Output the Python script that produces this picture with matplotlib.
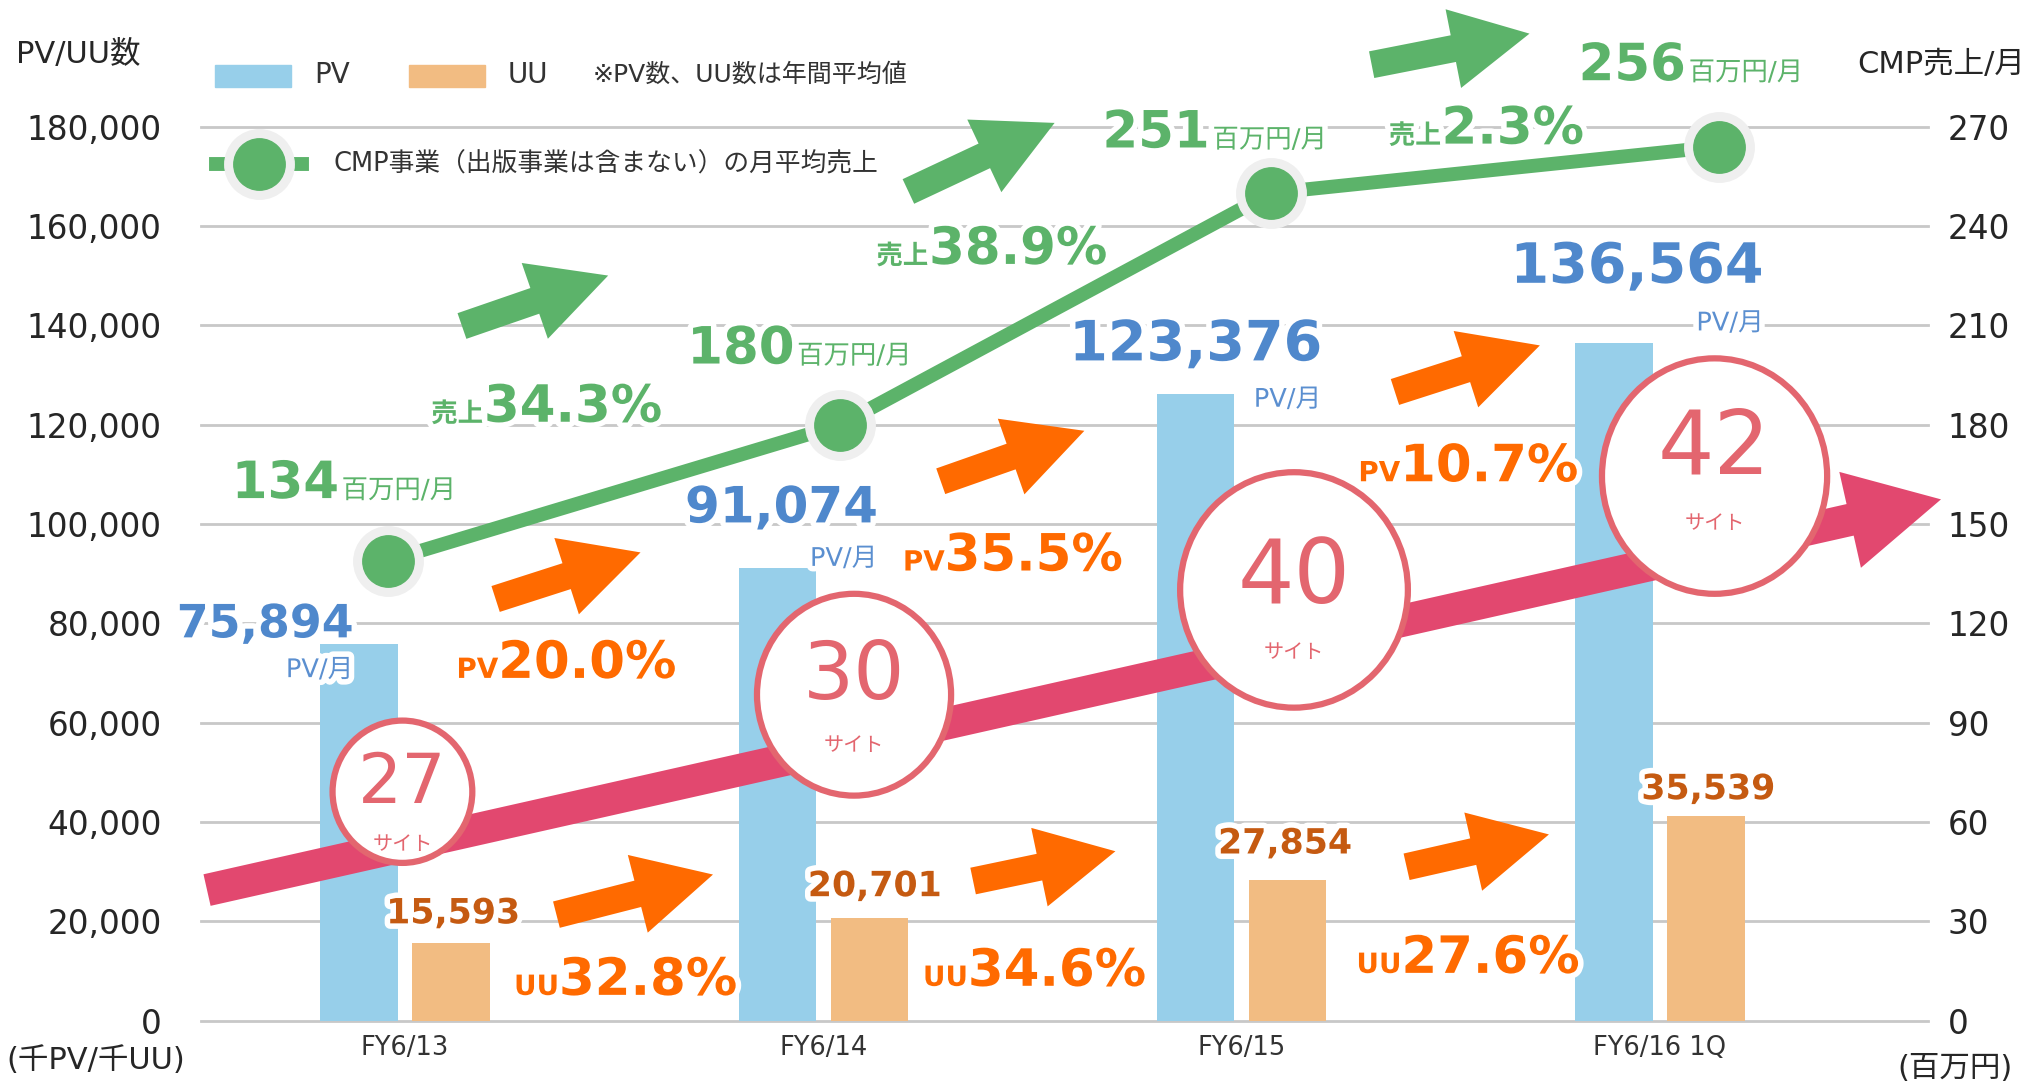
import numpy as np
import matplotlib.pyplot as plt
import matplotlib.patheffects as pe
from matplotlib.patches import FancyArrow, Ellipse, Rectangle

plt.rcParams['font.family'] = ['DejaVu Sans', 'Noto Sans CJK JP']

# data
categories = ['FY6/13', 'FY6/14', 'FY6/15', 'FY6/16 1Q']
pv_values = [75894, 91074, 126200, 136564]
uu_values = [15593, 20701, 28400, 41200]
pv_labels = ['75,894', '91,074', '123,376', '136,564']
uu_labels = ['15,593', '20,701', '27,854', '35,539']
cmp_sales = [139, 180, 250, 264]
cmp_labels = ['134', '180', '251', '256']
sites = [27, 30, 40, 42]
pv_growth = ['20.0%', '35.5%', '10.7%']
uu_growth = ['32.8%', '34.6%', '27.6%']
cmp_growth = ['34.3%', '38.9%', '2.3%']
left_ticks = np.arange(0, 180001, 20000)
right_ticks = np.arange(0, 271, 30)

# colours
C_PV = '#97CFEA'
C_UU = '#F2BC82'
C_GREEN = '#5CB36A'
C_ORANGE = '#FF6A00'
C_BLUE = '#4F88CC'
C_UUTXT = '#C55A11'
C_PINK = '#E2486F'
C_CIRC = '#E3666F'
C_TXT = '#262626'

# layout units = reference picture scaled to 1568 x 841
W, H = 1568, 841
def fx(v):
    return v / W
def fy(v):
    return 1 - v / H

fig = plt.figure(figsize=(20.29, 10.88), dpi=100)
ax = fig.add_axes([fx(155), fy(789), fx(1490) - fx(155), fy(98) - fy(789)])

x = np.arange(len(categories))
ax.bar(x - 0.11, pv_values, width=0.185, color=C_PV, zorder=2)
ax.bar(x + 0.11, uu_values, width=0.185, color=C_UU, zorder=2)
ax.set_xlim(-0.489, 3.641)
ax.set_ylim(0, 180000)
ax.set_yticks(left_ticks)
ax.set_yticklabels([f'{v:,}' for v in left_ticks])
ax.set_xticks(x)
ax.set_xticklabels(categories)
ax.yaxis.grid(True, color='#C8C8C8', lw=2, clip_on=False)
ax.set_axisbelow(True)
for s in ax.spines.values():
    s.set_visible(False)
ax.tick_params(axis='y', length=0, pad=28, labelsize=23.5, labelcolor=C_TXT)
ax.tick_params(axis='x', length=0, pad=10, labelsize=18.5, labelcolor='#333333')

ax2 = ax.twinx()
ax2.set_ylim(0, 270)
ax2.set_yticks(right_ticks)
for s in ax2.spines.values():
    s.set_visible(False)
ax2.tick_params(axis='y', length=0, pad=14, labelsize=23.5, labelcolor=C_TXT)
cmp_x = x + np.array([-0.04, 0.04, 0.07, 0.14])
ax2.plot(cmp_x, cmp_sales, color=C_GREEN, lw=10, zorder=3, clip_on=False)
ax2.plot(cmp_x, cmp_sales, 'o', ms=50, color='#EFEFEF', zorder=4, clip_on=False)
ax2.plot(cmp_x, cmp_sales, 'o', ms=37, color=C_GREEN, zorder=5, clip_on=False)

# overlay for decorations and annotation texts
ov = fig.add_axes([0, 0, 1, 1], zorder=5)
ov.set_xlim(0, W)
ov.set_ylim(H, 0)
ov.axis('off')

glow = [pe.withStroke(linewidth=8, foreground='white')]

def fat_arrow(x0, y0, x1, y1, color, body=21, head_w=62, head_l=60, z=3):
    ov.add_patch(FancyArrow(x0, y0, x1 - x0, y1 - y0, width=body, head_width=head_w,
                            head_length=head_l, length_includes_head=True,
                            color=color, lw=0, zorder=z))

# site trend arrow and circles
fat_arrow(160, 688, 1500, 386, C_PINK, body=25, head_w=76, head_l=72, z=2)
circles = [(311, 612, 54, 55), (660, 537, 75, 78), (1000, 456, 88, 91), (1325, 368, 87, 91)]
num_y = [606, 523, 447, 347]
site_y = [653, 576, 504, 405]
num_sizes = [50, 58, 64, 64]
for (cx, cy, rx, ry), n, fs, ny, sy in zip(circles, sites, num_sizes, num_y, site_y):
    ov.add_patch(Ellipse((cx, cy), 2 * rx, 2 * ry, fc='white', ec=C_CIRC, lw=4.5, zorder=4))
    ov.text(cx, ny, str(n), ha='center', va='center', fontsize=fs,
            color=C_CIRC, zorder=5)
    ov.text(cx, sy, 'サイト', ha='center', va='center', fontsize=14.5,
            color=C_CIRC, zorder=5)

# growth arrows
green_arrows = [(357, 252, 470, 213), (702, 148, 815, 95), (1060, 50, 1182, 26)]
pv_arrows = [(383, 463, 495, 427), (727, 372, 838, 333), (1078, 303, 1190, 267)]
uu_arrows = [(430, 707, 551, 676), (752, 681, 862, 658), (1087, 670, 1197, 645)]
for a in green_arrows:
    fat_arrow(*a, C_GREEN)
for a in pv_arrows + uu_arrows:
    fat_arrow(*a, C_ORANGE)

def pair(xs, yb, small, big, color, s_size, b_size, small_first=True, small_bold=True):
    sw = 'bold' if small_bold else 'normal'
    if small_first:
        ov.text(xs, yb, small, ha='right', va='baseline', fontsize=s_size, fontweight=sw,
                color=color, path_effects=glow, zorder=6)
        ov.text(xs, yb, big, ha='left', va='baseline', fontsize=b_size, fontweight='bold',
                color=color, path_effects=glow, zorder=6)
    else:
        ov.text(xs, yb, big, ha='right', va='baseline', fontsize=b_size, fontweight='bold',
                color=color, path_effects=glow, zorder=6)
        ov.text(xs + 2, yb, small, ha='left', va='baseline', fontsize=s_size, fontweight=sw,
                color=color, path_effects=glow, zorder=6)

# CMP sales labels
for (xs, yb), lab in zip([(262, 385), (614, 281), (935, 114), (1303, 62)], cmp_labels):
    pair(xs, yb, '百万円/月', lab, C_GREEN, 19, 37, small_first=False, small_bold=False)
for (xs, yb), lab in zip([(374, 326), (718, 204), (1114, 111)], cmp_growth):
    pair(xs, yb, '売上', lab, C_GREEN, 19, 37)
for (xs, yb), lab in zip([(385, 524), (730, 441), (1082, 372)], pv_growth):
    pair(xs, yb, 'PV', lab, C_ORANGE, 20, 37)
for (xs, yb), lab in zip([(432, 769), (748, 762), (1083, 752)], uu_growth):
    pair(xs, yb, 'UU', lab, C_ORANGE, 20, 37)

# PV / UU value labels
pv_pos = [(205, 483), (604, 393), (924, 267), (1265, 207)]
pv_unit_pos = [(247, 518), (652, 432), (995, 309), (1337, 250)]
pv_sizes = [33, 36, 40, 40]
for (px, py), (ux, uy), lab, fs in zip(pv_pos, pv_unit_pos, pv_labels, pv_sizes):
    ov.text(px, py, lab, ha='center', va='center', fontsize=fs, fontweight='bold',
            color=C_BLUE, path_effects=glow, zorder=6)
    ov.text(ux, uy, 'PV/月', ha='center', va='center', fontsize=18.5,
            color='#5B8FD0', path_effects=glow, zorder=6)
for (px, py), lab in zip([(350, 706), (676, 685), (993, 652), (1320, 610)], uu_labels):
    ov.text(px, py, lab, ha='center', va='center', fontsize=25, fontweight='bold',
            color=C_UUTXT, path_effects=glow, zorder=6)

# legend
ov.add_patch(Rectangle((166, 50), 59, 17, color=C_PV, zorder=3))
ov.text(243, 58, 'PV', ha='left', va='center', fontsize=20, color='#333333')
ov.add_patch(Rectangle((316, 50), 59, 17, color=C_UU, zorder=3))
ov.text(392, 58, 'UU', ha='left', va='center', fontsize=20, color='#333333')
ov.text(458, 58, '※PV数、UU数は年間平均値', ha='left', va='center', fontsize=18,
        color='#333333')
ov.plot([167, 233], [127, 127], color=C_GREEN, lw=10, zorder=3)
ov.plot([200], [127], 'o', ms=50, color='#EFEFEF', zorder=4)
ov.plot([200], [127], 'o', ms=37, color=C_GREEN, zorder=5)
ov.text(258, 127, 'CMP事業（出版事業は含まない）の月平均売上', ha='left', va='center',
        fontsize=18.5, color='#333333')

# axis titles
ov.text(12, 42, 'PV/UU数', ha='left', va='center', fontsize=22, color=C_TXT)
ov.text(1565, 50, 'CMP売上/月', ha='right', va='center', fontsize=22, color=C_TXT)
ov.text(5, 820, '(千PV/千UU)', ha='left', va='center', fontsize=22, color=C_TXT)
ov.text(1555, 826, '(百万円)', ha='right', va='center', fontsize=22, color=C_TXT)

fig.savefig('out.png', dpi=100)
